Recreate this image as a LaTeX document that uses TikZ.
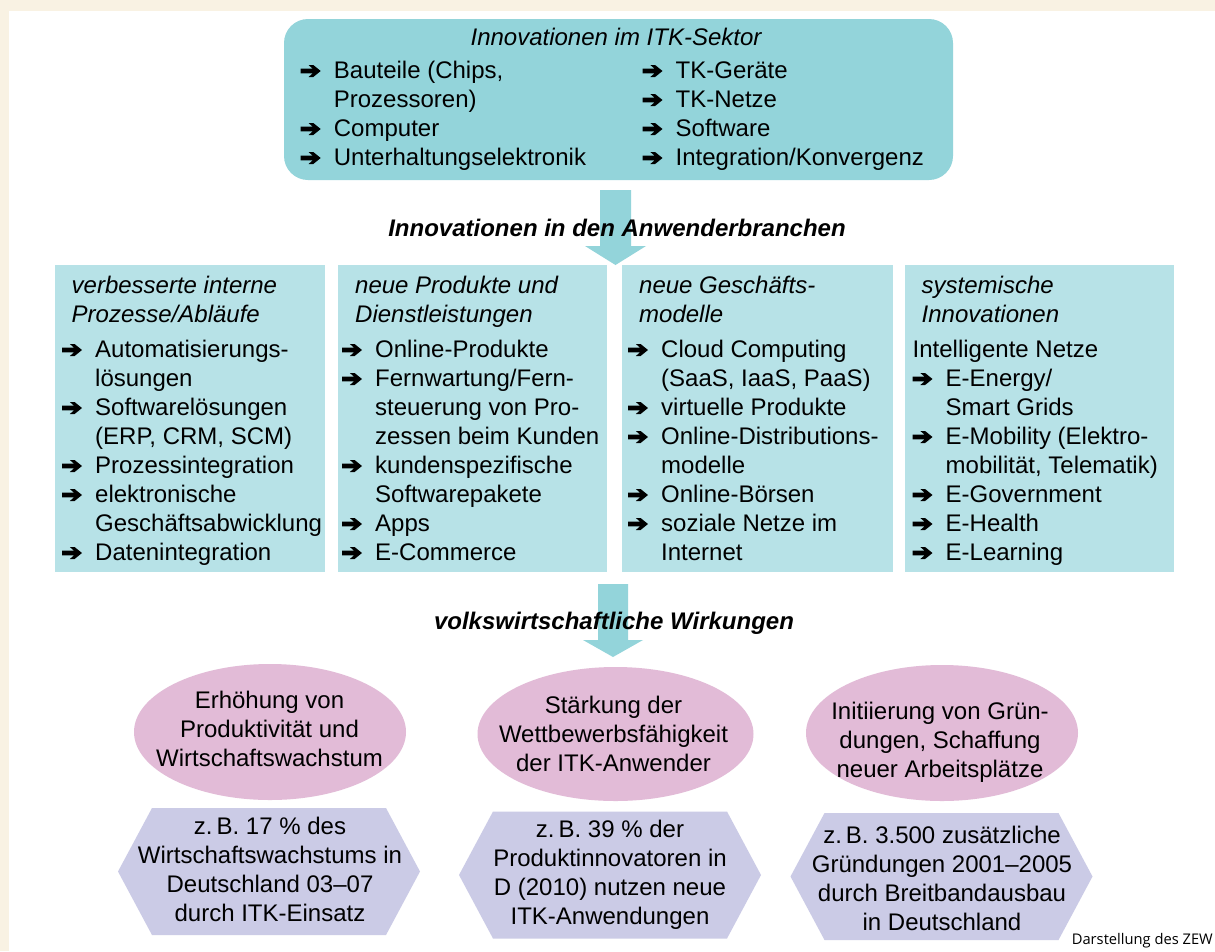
\documentclass[tikz,border=0pt]{standalone}
\usepackage{fontspec}
\setmainfont{Liberation Sans}
\newfontfamily\notef{Open Sans}
\usetikzlibrary{shapes.geometric}

\definecolor{cream}{HTML}{F9F2E3}
\definecolor{tealA}{HTML}{93D4DA}
\definecolor{tealB}{HTML}{B7E2E7}
\definecolor{pinkA}{HTML}{E2BBD7}
\definecolor{lavA}{HTML}{CBCBE6}

\newlength\aw \setlength\aw{33pt}
\newcommand\itm{\hspace*{\aw}}
\newcommand\cnt{\hspace*{\aw}}

\tikzset{
  txt/.style={inner sep=0pt, anchor=base west, font=\fontsize{24}{29}\selectfont},
  ttl/.style={txt, font=\fontsize{24}{29}\selectfont\itshape},
  ctxt/.style={inner sep=0pt, anchor=base, font=\fontsize{24}{29}\selectfont},
  hdr/.style={inner sep=0pt, anchor=base, font=\fontsize{24}{29}\selectfont\bfseries\itshape},
  panel/.style={fill=tealB, inner sep=0pt},
  blob/.style={ellipse, fill=pinkA, inner sep=0pt},
  bigarrow/.style={fill=tealA},
  bul/.pic={\fill[black] (0,-4.6) -- (12,-4.6) -- (7.8,-1) -- (12.6,-1) -- (20,-7) -- (12.6,-13) -- (7.8,-13) -- (12,-9.4) -- (0,-9.4) -- cycle;},
}

\begin{document}
\begin{tikzpicture}[x=1pt,y=-1pt]
\path[use as bounding box] (0,0) rectangle (1215,951);
\fill[cream] (0,0) rectangle (1215,951);
\fill[white] (9,11) rectangle (1215,951);

% top box
\node[fill=tealA, rounded corners=24pt, minimum width=669pt, minimum height=161pt, inner sep=0pt] (top) at (618.5,99.5) {};
\node[hdr, font=\fontsize{24}{29}\selectfont\itshape] (toptitle) at (616,45) {Innovationen im ITK-Sektor};
\node[txt] (topL) at (300.7,78) {\begin{tabular}[t]{@{}l@{}}
\itm Bauteile (Chips,\\
\cnt Prozessoren)\\
\itm Computer\\
\itm Unterhaltungselektronik
\end{tabular}};
\node[txt] (topR) at (642.5,78) {\begin{tabular}[t]{@{}l@{}}
\itm TK-Geräte\\
\itm TK-Netze\\
\itm Software\\
\itm Integration/Konvergenz
\end{tabular}};
\foreach \k in {0,2,3} \pic at (300.7,78+29*\k) {bul};
\foreach \k in {0,1,2,3} \pic at (642.5,78+29*\k) {bul};

% four panels
\node[panel, minimum width=270pt, minimum height=307pt] (b1) at (190,418.5) {};
\node[panel, minimum width=269pt, minimum height=307pt] (b2) at (472.5,418.5) {};
\node[panel, minimum width=271pt, minimum height=307pt] (b3) at (757.5,418.5) {};
\node[panel, minimum width=269pt, minimum height=307pt] (b4) at (1039.5,418.5) {};

% arrow 1
\fill[bigarrow] (600,190) -- (631,190) -- (631,246) -- (646,246) -- (615.5,265) -- (585,246) -- (600,246) -- cycle;
\node[hdr] (h1) at (617,236) {Innovationen in den Anwenderbranchen};

\node[ttl] (t1) at (71.5,293) {\begin{tabular}[t]{@{}l@{}}verbesserte interne\\ Prozesse/Abläufe\end{tabular}};
\node[ttl] (t2) at (355,293) {\begin{tabular}[t]{@{}l@{}}neue Produkte und\\ Dienstleistungen\end{tabular}};
\node[ttl] (t3) at (639,293) {\begin{tabular}[t]{@{}l@{}}neue Geschäfts-\\ modelle\end{tabular}};
\node[ttl] (t4) at (921.5,293) {\begin{tabular}[t]{@{}l@{}}systemische\\ Innovationen\end{tabular}};

\node[txt] (l1) at (62,357) {\begin{tabular}[t]{@{}l@{}}
\itm Automatisierungs-\\
\cnt lösungen\\
\itm Softwarelösungen\\
\cnt (ERP, CRM, SCM)\\
\itm Prozessintegration\\
\itm elektronische\\
\cnt Geschäftsabwicklung\\
\itm Datenintegration
\end{tabular}};
\node[txt] (l2) at (342,357) {\begin{tabular}[t]{@{}l@{}}
\itm Online-Produkte\\
\itm Fernwartung/Fern-\\
\cnt steuerung von Pro-\\
\cnt zessen beim Kunden\\
\itm kundenspezifische\\
\cnt Softwarepakete\\
\itm Apps\\
\itm E-Commerce
\end{tabular}};
\node[txt] (l3) at (628,357) {\begin{tabular}[t]{@{}l@{}}
\itm Cloud Computing\\
\cnt (SaaS, IaaS, PaaS)\\
\itm virtuelle Produkte\\
\itm Online-Distributions-\\
\cnt modelle\\
\itm Online-Börsen\\
\itm soziale Netze im\\
\cnt Internet
\end{tabular}};
\node[txt] (l4) at (912.5,357) {\begin{tabular}[t]{@{}l@{}}
Intelligente Netze\\
\itm E-Energy/\\
\cnt Smart Grids\\
\itm E-Mobility (Elektro-\\
\cnt mobilität, Telematik)\\
\itm E-Government\\
\itm E-Health\\
\itm E-Learning
\end{tabular}};
\foreach \k in {0,2,4,5,7} \pic at (62,357+29*\k) {bul};
\foreach \k in {0,1,4,6,7} \pic at (342,357+29*\k) {bul};
\foreach \k in {0,2,3,5,6} \pic at (628,357+29*\k) {bul};
\foreach \k in {1,3,5,6,7} \pic at (912.5,357+29*\k) {bul};

% arrow 2
\fill[bigarrow] (598,584) -- (628,584) -- (628,640) -- (643,640) -- (613,657) -- (583,640) -- (598,640) -- cycle;
\node[hdr] (h2) at (614,629) {volkswirtschaftliche Wirkungen};

% ellipses
\node[blob, minimum width=272pt, minimum height=136pt] (e1) at (270,732) {};
\node[blob, minimum width=276pt, minimum height=134pt] (e2) at (615.5,734) {};
\node[blob, minimum width=272pt, minimum height=136pt] (e3) at (942,733) {};
\node[ctxt] (et1) at (269.5,708) {\begin{tabular}[t]{@{}c@{}}Erhöhung von\\ Produktivität und\\ Wirtschaftswachstum\end{tabular}};
\node[ctxt] (et2) at (613.5,713) {\begin{tabular}[t]{@{}c@{}}Stärkung der\\ Wettbewerbsfähigkeit\\ der ITK-Anwender\end{tabular}};
\node[ctxt] (et3) at (940,719) {\begin{tabular}[t]{@{}c@{}}Initiierung von Grün-\\ dungen, Schaffung\\ neuer Arbeitsplätze\end{tabular}};

% hexagons
\coordinate (hx1) at (269,871.5);
\coordinate (hx2) at (610,875);
\coordinate (hx3) at (941.5,876.5);
\foreach \h in {hx1,hx2,hx3}{
  \fill[lavA] ([shift={(-151,0)}]\h) -- ([shift={(-117,-63.5)}]\h) -- ([shift={(117,-63.5)}]\h) -- ([shift={(151,0)}]\h) -- ([shift={(117,63.5)}]\h) -- ([shift={(-117,63.5)}]\h) -- cycle;
}
\node[ctxt] (ht1) at (270,834) {\begin{tabular}[t]{@{}c@{}}z.\,B. 17 \% des\\ Wirtschaftswachstums in\\ Deutschland 03–07\\ durch ITK-Einsatz\end{tabular}};
\node[ctxt] (ht2) at (610,837.5) {\begin{tabular}[t]{@{}c@{}}z.\,B. 39 \% der\\ Produktinnovatoren in\\ D (2010) nutzen neue\\ ITK-Anwendungen\end{tabular}};
\node[ctxt] (ht3) at (942,843.5) {\begin{tabular}[t]{@{}c@{}}z.\,B. 3.500 zusätzliche\\ Gründungen 2001–2005\\ durch Breitbandausbau\\ in Deutschland\end{tabular}};

\node[inner sep=0pt, anchor=base east, font=\notef\fontsize{14.7}{17}\selectfont] (src) at (1213,944) {Darstellung des ZEW};
\end{tikzpicture}
\end{document}
